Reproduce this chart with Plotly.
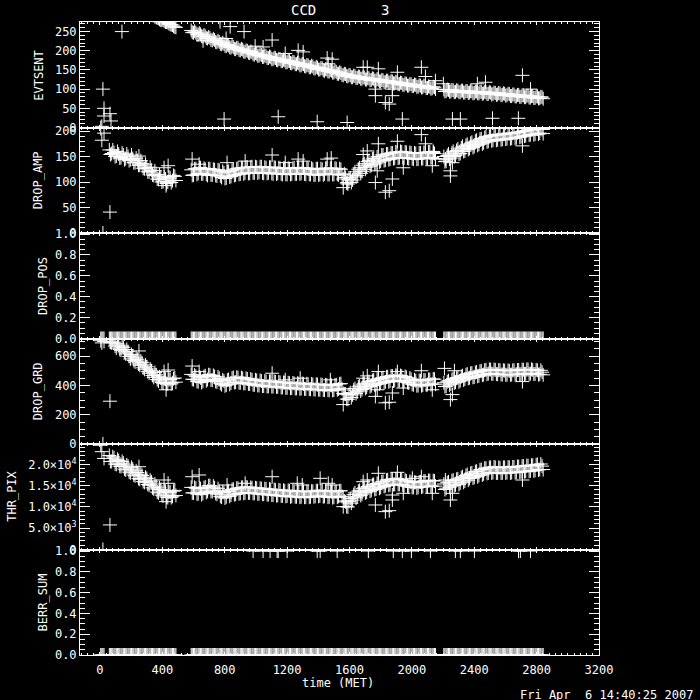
import plotly.graph_objects as go
from plotly.subplots import make_subplots

# ---------------- data ----------------
# first pass of readings
TIME = [
    5, 12, 19, 26,
    60, 75, 90, 105, 120, 135, 150, 165, 180, 195, 210, 225, 240, 255, 270,
    285, 300, 315, 330, 345, 360, 375, 390, 405, 420, 435, 450, 465, 480,
    585, 600, 615, 630, 645, 660, 675, 690, 705, 720,
    735, 750, 765, 780, 795, 810, 825, 840, 855, 870,
    885, 900, 915, 930, 945, 960, 975, 990, 1005, 1020,
    1035, 1050, 1065, 1080, 1095, 1110, 1125, 1140, 1155, 1170,
    1185, 1200, 1215, 1230, 1245, 1260, 1275, 1290, 1305, 1320,
    1335, 1350, 1365, 1380, 1395, 1410, 1425, 1440, 1455, 1470,
    1485, 1500, 1515, 1530, 1545, 1560, 1575, 1590, 1605, 1620,
    1635, 1650, 1665, 1680, 1695, 1710, 1725, 1740, 1755, 1770,
    1785, 1800, 1815, 1830, 1845, 1860, 1875, 1890, 1905, 1920,
    1935, 1950, 1965, 1980, 1995, 2010, 2025, 2040, 2055, 2070,
    2085, 2100, 2115, 2130, 2145,
    2205, 2220, 2235, 2250, 2265, 2280, 2295, 2310, 2325, 2340,
    2355, 2370, 2385, 2400, 2415, 2430, 2445, 2460, 2475, 2490,
    2505, 2520, 2535, 2550, 2565, 2580, 2595, 2610, 2625, 2640,
    2655, 2670, 2685, 2700, 2715, 2730, 2745, 2760, 2775, 2790,
    2805, 2820, 2835,
]

EVTSENT = [
    0, 3, 100, 50,
    362, 357, 354, 350, 347, 341, 339, 335, 330, 328, 322, 321, 315, 314, 308,
    306, 301, 299, 294, 292, 287, 285, 280, 280, 275, 274, 269, 267, 262,
    253, 247, 247, 242, 243, 237, 238, 232, 233, 227,
    228, 222, 223, 217, 218, 212, 214, 208, 210, 204,
    207, 201, 203, 197, 200, 194, 196, 190, 192, 187,
    189, 184, 186, 181, 183, 178, 181, 175, 178, 173,
    175, 170, 173, 167, 170, 165, 167, 162, 165, 159,
    162, 157, 159, 154, 156, 151, 154, 148, 151, 146,
    148, 143, 145, 140, 142, 136, 139, 133, 136, 131,
    134, 129, 132, 127, 130, 125, 128, 124, 127, 122,
    125, 120, 123, 118, 122, 117, 120, 115, 118, 113,
    116, 111, 114, 109, 113, 108, 111, 106, 109, 105,
    108, 103, 106, 102, 105,
    99, 95, 98, 94, 97, 93, 96, 92, 96, 91,
    95, 91, 94, 90, 94, 89, 93, 89, 92, 88,
    91, 87, 90, 86, 89, 85, 88, 84, 87, 82,
    86, 81, 85, 80, 84, 79, 83, 78, 82, 77,
    81, 76, 79,
]

DROP_AMP = [
    205, 182, 0, 196,
    163, 156, 158, 151, 155, 148, 153, 146, 150, 144, 146, 138, 142, 133, 136,
    126, 129, 120, 123, 113, 115, 105, 110, 101, 106, 100, 108, 103, 111,
    124, 114, 126, 117, 128, 116, 125, 113, 126, 114,
    124, 112, 123, 109, 118, 108, 121, 111, 125, 114,
    127, 116, 128, 118, 129, 117, 130, 118, 129, 119,
    130, 117, 128, 118, 129, 116, 128, 117, 127, 115,
    127, 115, 126, 116, 128, 116, 127, 117, 128, 115,
    126, 115, 125, 114, 126, 115, 125, 116, 127, 115,
    127, 115, 126, 114, 125, 106, 109, 96, 108, 104,
    120, 113, 128, 121, 136, 129, 142, 133, 146, 137,
    150, 141, 153, 143, 155, 145, 157, 147, 158, 148,
    159, 147, 158, 146, 157, 145, 156, 145, 157, 146,
    158, 147, 159, 148, 156,
    150, 141, 155, 147, 160, 152, 165, 156, 170, 161,
    174, 166, 178, 170, 182, 174, 185, 177, 189, 180,
    191, 182, 192, 183, 193, 184, 194, 185, 195, 186,
    196, 187, 198, 189, 200, 191, 202, 193, 203, 194,
    204, 196, 203,
]

DROP_POS = [
    0, 0, 0, 0,
    0, 0, 0, 0, 0, 0, 0, 0, 0, 0, 0, 0, 0, 0, 0,
    0, 0, 0, 0, 0, 0, 0, 0, 0, 0, 0, 0, 0, 0,
    0, 0, 0, 0, 0, 0, 0, 0, 0, 0,
    0, 0, 0, 0, 0, 0, 0, 0, 0, 0,
    0, 0, 0, 0, 0, 0, 0, 0, 0, 0,
    0, 0, 0, 0, 0, 0, 0, 0, 0, 0,
    0, 0, 0, 0, 0, 0, 0, 0, 0, 0,
    0, 0, 0, 0, 0, 0, 0, 0, 0, 0,
    0, 0, 0, 0, 0, 0, 0, 0, 0, 0,
    0, 0, 0, 0, 0, 0, 0, 0, 0, 0,
    0, 0, 0, 0, 0, 0, 0, 0, 0, 0,
    0, 0, 0, 0, 0, 0, 0, 0, 0, 0,
    0, 0, 0, 0, 0,
    0, 0, 0, 0, 0, 0, 0, 0, 0, 0,
    0, 0, 0, 0, 0, 0, 0, 0, 0, 0,
    0, 0, 0, 0, 0, 0, 0, 0, 0, 0,
    0, 0, 0, 0, 0, 0, 0, 0, 0, 0,
    0, 0, 0,
]

DROP_GRD = [
    705, 690, 0, 700,
    718, 690, 695, 655, 675, 640, 660, 615, 630, 580, 600, 560, 578, 537, 555,
    510, 527, 483, 500, 455, 472, 430, 452, 415, 442, 410, 440, 418, 450,
    475, 440, 462, 425, 452, 428, 466, 440, 470, 436,
    460, 424, 448, 405, 430, 402, 440, 416, 454, 422,
    452, 418, 448, 414, 444, 410, 438, 404, 434, 400,
    430, 396, 426, 394, 428, 392, 424, 390, 420, 386,
    418, 384, 415, 382, 413, 380, 412, 378, 410, 376,
    408, 374, 406, 372, 405, 370, 404, 368, 402, 366,
    400, 368, 404, 375, 412, 345, 340, 305, 350, 335,
    378, 356, 396, 372, 414, 388, 426, 398, 436, 408,
    444, 416, 452, 424, 459, 430, 464, 434, 466, 433,
    463, 427, 455, 416, 442, 404, 432, 399, 432, 402,
    436, 406, 440, 410, 442,
    418, 394, 432, 410, 447, 422, 454, 432, 466, 444,
    477, 452, 484, 458, 491, 466, 499, 474, 506, 480,
    508, 479, 506, 476, 503, 474, 501, 473, 500, 474,
    503, 476, 505, 478, 507, 480, 508, 480, 506, 478,
    503, 476, 490,
]

THR_PIX = [
    24500, 23000, 0, 21400,
    22100, 20700, 21500, 20000, 20900, 19500, 20300, 18700, 19600, 18000,
    18900, 17300, 18100, 16500, 17400, 15800, 16700, 15100, 15900, 14200,
    14900, 13300, 14100, 12600, 13700, 12200, 13500, 12500, 13900,
    14600, 13300, 14400, 13100, 14300, 13200, 14700, 13700, 15000, 13600,
    14500, 13000, 13800, 12300, 13400, 12400, 13800, 12800, 14200, 13000,
    14400, 13200, 14600, 13300, 14600, 13300, 14500, 13200, 14400, 13100,
    14300, 13000, 14200, 12900, 14100, 12800, 14000, 12700, 13900, 12600,
    13800, 12600, 13800, 12500, 13700, 12400, 13600, 12400, 13600, 12300,
    13600, 12400, 13700, 12500, 13800, 12600, 13800, 12500, 13700, 12400,
    13600, 12300, 13600, 12500, 13800, 12300, 11200, 10000, 12000, 11600,
    13300, 12400, 13900, 13000, 14500, 13500, 14900, 13900, 15300, 14200,
    15600, 14600, 16000, 15000, 16400, 15200, 16500, 15300, 16600, 15300,
    16400, 15000, 16100, 14700, 15800, 14600, 15800, 14600, 15900, 14800,
    16100, 14800, 16200, 14900, 16100,
    15400, 14400, 15900, 14900, 16300, 15200, 16600, 15600, 17100, 16100,
    17600, 16700, 18000, 17000, 18400, 17400, 18800, 17800, 19100, 18000,
    19300, 18100, 19300, 18000, 19200, 18000, 19300, 18100, 19300, 18100,
    19400, 18200, 19500, 18300, 19600, 18400, 19700, 18500, 19800, 18600,
    20000, 18800, 19600,
]

BERR_SUM = [
    0, 0, 0, 0,
    0, 0, 0, 0, 0, 0, 0, 0, 0, 0, 0, 0, 0, 0, 0,
    0, 0, 0, 0, 0, 0, 0, 0, 0, 0, 0, 0, 0, 0,
    0, 0, 0, 0, 0, 0, 0, 0, 0, 0,
    0, 0, 0, 0, 0, 0, 0, 0, 0, 0,
    0, 0, 0, 0, 0, 0, 0, 0, 0, 0,
    0, 0, 0, 0, 0, 0, 0, 0, 0, 0,
    0, 0, 0, 0, 0, 0, 0, 0, 0, 0,
    0, 0, 0, 0, 0, 0, 0, 0, 0, 0,
    0, 0, 0, 0, 0, 0, 0, 0, 0, 0,
    0, 0, 0, 0, 0, 0, 0, 0, 0, 0,
    0, 0, 0, 0, 0, 0, 0, 0, 0, 0,
    0, 0, 0, 0, 0, 0, 0, 0, 0, 0,
    0, 0, 0, 0, 0,
    0, 0, 0, 0, 0, 0, 0, 0, 0, 0,
    0, 0, 0, 0, 0, 0, 0, 0, 0, 0,
    0, 0, 0, 0, 0, 0, 0, 0, 0, 0,
    0, 0, 0, 0, 0, 0, 0, 0, 0, 0,
    0, 0, 0,
]

# second, interleaved pass of readings
TIME2 = [
    67, 82, 97, 112, 127, 142, 157, 172, 187, 202, 217, 232, 247, 262, 277,
    292, 307, 322, 337, 352, 367, 382, 397, 412, 427, 442, 457, 472, 487,
    592, 607, 622, 637, 652, 667, 682, 697, 712, 727,
    742, 757, 772, 787, 802, 817, 832, 847, 862, 877,
    892, 907, 922, 937, 952, 967, 982, 997, 1012, 1027,
    1042, 1057, 1072, 1087, 1102, 1117, 1132, 1147, 1162, 1177,
    1192, 1207, 1222, 1237, 1252, 1267, 1282, 1297, 1312, 1327,
    1342, 1357, 1372, 1387, 1402, 1417, 1432, 1447, 1462, 1477,
    1492, 1507, 1522, 1537, 1552, 1567, 1582, 1597, 1612, 1627,
    1642, 1657, 1672, 1687, 1702, 1717, 1732, 1747, 1762, 1777,
    1792, 1807, 1822, 1837, 1852, 1867, 1882, 1897, 1912, 1927,
    1942, 1957, 1972, 1987, 2002, 2017, 2032, 2047, 2062, 2077,
    2092, 2107, 2122, 2137, 2152,
    2212, 2227, 2242, 2257, 2272, 2287, 2302, 2317, 2332, 2347,
    2362, 2377, 2392, 2407, 2422, 2437, 2452, 2467, 2482, 2497,
    2512, 2527, 2542, 2557, 2572, 2587, 2602, 2617, 2632, 2647,
    2662, 2677, 2692, 2707, 2722, 2737, 2752, 2767, 2782, 2797,
    2812, 2827, 2842,
]

EVTSENT2 = [
    359, 356, 351, 349, 343, 340, 336, 333, 329, 324, 322, 317, 315, 310, 307,
    303, 300, 296, 293, 289, 286, 282, 280, 277, 275, 271, 268, 264, 261,
    248, 251, 243, 246, 238, 241, 233, 236, 228, 231,
    223, 226, 218, 221, 213, 216, 209, 212, 205, 208,
    202, 205, 198, 201, 195, 198, 191, 194, 187, 191,
    184, 188, 181, 185, 178, 182, 176, 179, 173, 177,
    170, 174, 168, 171, 165, 169, 162, 166, 160, 163,
    157, 161, 154, 158, 151, 155, 149, 152, 146, 150,
    143, 147, 140, 144, 137, 140, 134, 137, 131, 135,
    129, 133, 127, 131, 125, 129, 123, 128, 122, 126,
    120, 124, 118, 122, 117, 121, 115, 119, 113, 117,
    111, 115, 109, 113, 108, 112, 106, 110, 104, 109,
    103, 107, 101, 106, 100,
    94, 99, 93, 98, 92, 97, 92, 96, 91, 95,
    90, 95, 89, 94, 89, 93, 88, 93, 87, 92,
    86, 91, 85, 90, 84, 89, 83, 88, 82, 86,
    81, 85, 80, 84, 79, 83, 78, 82, 77, 81,
    76, 80, 75,
]

DROP_AMP2 = [
    154, 163, 150, 160, 147, 157, 144, 155, 142, 153, 138, 147, 133, 142, 127,
    135, 120, 129, 114, 122, 106, 114, 100, 110, 97, 110, 99, 113, 103,
    113, 126, 115, 128, 116, 127, 115, 126, 114, 125,
    113, 124, 112, 121, 107, 120, 110, 123, 113, 126,
    115, 128, 116, 129, 117, 129, 118, 130, 118, 130,
    118, 129, 117, 129, 117, 129, 116, 128, 116, 127,
    115, 127, 115, 127, 116, 128, 116, 128, 116, 127,
    115, 127, 114, 126, 114, 126, 114, 127, 115, 127,
    115, 127, 115, 126, 114, 116, 98, 105, 99, 114,
    110, 125, 117, 133, 125, 140, 131, 145, 135, 149,
    139, 153, 142, 155, 144, 157, 146, 159, 147, 160,
    148, 159, 147, 158, 146, 157, 145, 157, 146, 158,
    147, 159, 148, 160, 146,
    140, 152, 145, 157, 150, 162, 155, 167, 160, 172,
    164, 176, 168, 180, 172, 184, 175, 187, 179, 190,
    181, 192, 182, 193, 183, 194, 184, 195, 185, 196,
    186, 197, 188, 199, 190, 201, 192, 203, 193, 204,
    194, 205, 195,
]

DROP_POS2 = [
    0, 0, 0, 0, 0, 0, 0, 0, 0, 0, 0, 0, 0, 0, 0,
    0, 0, 0, 0, 0, 0, 0, 0, 0, 0, 0, 0, 0, 0,
    0, 0, 0, 0, 0, 0, 0, 0, 0, 0,
    0, 0, 0, 0, 0, 0, 0, 0, 0, 0,
    0, 0, 0, 0, 0, 0, 0, 0, 0, 0,
    0, 0, 0, 0, 0, 0, 0, 0, 0, 0,
    0, 0, 0, 0, 0, 0, 0, 0, 0, 0,
    0, 0, 0, 0, 0, 0, 0, 0, 0, 0,
    0, 0, 0, 0, 0, 0, 0, 0, 0, 0,
    0, 0, 0, 0, 0, 0, 0, 0, 0, 0,
    0, 0, 0, 0, 0, 0, 0, 0, 0, 0,
    0, 0, 0, 0, 0, 0, 0, 0, 0, 0,
    0, 0, 0, 0, 0,
    0, 0, 0, 0, 0, 0, 0, 0, 0, 0,
    0, 0, 0, 0, 0, 0, 0, 0, 0, 0,
    0, 0, 0, 0, 0, 0, 0, 0, 0, 0,
    0, 0, 0, 0, 0, 0, 0, 0, 0, 0,
    0, 0, 0,
]

DROP_GRD2 = [
    695, 712, 668, 684, 645, 668, 628, 645, 598, 610, 570, 588, 546, 566, 520,
    540, 494, 512, 468, 488, 440, 458, 420, 444, 410, 440, 410, 446, 422,
    442, 470, 428, 458, 420, 461, 432, 473, 437, 468,
    427, 458, 414, 438, 397, 436, 407, 450, 420, 456,
    418, 453, 414, 448, 410, 443, 404, 438, 400, 434,
    396, 430, 392, 428, 392, 427, 390, 424, 386, 420,
    383, 418, 381, 416, 379, 414, 377, 413, 376, 411,
    374, 409, 372, 408, 371, 406, 369, 404, 367, 402,
    366, 403, 370, 410, 377, 342, 307, 338, 317, 368,
    344, 390, 362, 408, 380, 423, 392, 433, 402, 442,
    410, 450, 418, 458, 425, 464, 430, 468, 432, 467,
    429, 461, 420, 450, 408, 438, 398, 433, 398, 436,
    402, 440, 406, 444, 408,
    392, 425, 403, 440, 417, 451, 425, 461, 437, 473,
    448, 482, 455, 488, 462, 496, 470, 504, 477, 509,
    479, 508, 477, 505, 474, 503, 472, 502, 472, 503,
    474, 505, 476, 507, 478, 509, 479, 509, 478, 506,
    474, 503, 472,
]

THR_PIX2 = [
    20700, 21800, 20100, 21200, 19600, 20700, 18900, 19900, 18200, 19300,
    17500, 18500, 16700, 17700, 16000, 17000, 15300, 16300, 14500, 15400,
    13500, 14500, 12800, 13800, 12300, 13500, 12200, 13700, 12700,
    13300, 14600, 13100, 14400, 12900, 14500, 13400, 15000, 13700, 14900,
    13200, 14300, 12500, 13600, 12100, 13600, 12500, 14100, 12900, 14400,
    13100, 14600, 13200, 14700, 13300, 14600, 13200, 14500, 13100, 14400,
    13000, 14300, 12900, 14200, 12800, 14100, 12700, 14000, 12600, 13900,
    12500, 13900, 12400, 13800, 12400, 13700, 12300, 13700, 12300, 13600,
    12300, 13700, 12400, 13800, 12500, 13900, 12400, 13800, 12300, 13700,
    12200, 13600, 12300, 13800, 12500, 11400, 10100, 11300, 10900, 12900,
    12100, 13700, 12700, 14300, 13300, 14800, 13700, 15200, 14100, 15500,
    14400, 15900, 14800, 16300, 15100, 16500, 15300, 16600, 15300, 16500,
    15200, 16300, 14900, 16000, 14600, 15800, 14500, 15900, 14700, 16100,
    14800, 16200, 14900, 16200, 14900,
    14100, 15700, 14600, 16200, 15000, 16500, 15300, 16900, 15800, 17400,
    16300, 17900, 16800, 18300, 17100, 18700, 17500, 19100, 17900, 19300,
    18000, 19400, 18000, 19300, 18000, 19300, 18000, 19400, 18000, 19400,
    18100, 19500, 18200, 19600, 18300, 19700, 18400, 19800, 18500, 19900,
    18700, 20100, 18800,
]

BERR_SUM2 = DROP_POS2[:]  # second-pass BERR_SUM readings are all zero as well

# isolated readings away from the main band
EVT_OUT_T = [26, 64, 71, 141, 796, 1143, 1393, 770, 835, 924, 1104, 995, 1046, 661, 809,
             1188, 1271, 1303, 1457, 1489, 1464, 1585, 1688, 1714, 1785, 1907, 2061, 2087,
             2709, 1766, 1766, 1830, 1855, 1875, 1875, 2151, 2202, 2420, 2472, 2761, 1939,
             2260, 2311, 2517, 2683]
EVT_OUT_V = [30, 36, 17, 250, 22, 28, 15, 276, 263, 250, 228, 212, 210, 226, 232,
             193, 201, 197, 181, 178, 166, 13, 157, 157, 153, 144, 157, 133,
             136, 100, 83, 65, 61, 83, 100, 122, 114, 114, 118, 100, 22,
             22, 22, 24, 24]

AMP_OUT_T = [64, 250, 411, 437, 424, 591, 636, 815, 931, 1104, 1188, 1271, 1303, 1457, 1483,
             1560, 1586, 1688, 1714, 1785, 1907, 2061, 2087, 2709, 1778, 1766, 1830, 1855,
             1875, 1945, 2131, 2247, 2247, 2260, 2215, 2138, 2151]
AMP_OUT_V = [41, 151, 128, 132, 93, 145, 135, 138, 141, 153, 138, 145, 141, 145, 147,
             89, 99, 154, 161, 175, 180, 193, 175, 171, 122, 99, 80, 83,
             106, 128, 132, 112, 122, 138, 145, 158, 145]

GRD_OUT_T = [64, 250, 411, 437, 424, 591, 636, 1104, 1188, 1284, 1477, 1560, 1688, 1714,
             1785, 1907, 2061, 2209, 2273, 1766, 1830, 1855, 1875, 1945, 2131, 2247, 2260,
             2709, 1778]
GRD_OUT_V = [292, 635, 494, 505, 370, 532, 494, 483, 438, 449, 438, 269, 449, 465,
             494, 494, 500, 516, 500, 325, 281, 285, 348, 382, 370, 303, 337,
             426, 370]

THR_OUT_T = [64, 250, 411, 437, 424, 591, 636, 815, 931, 1104, 1265, 1297, 1412, 1464,
             1489, 1560, 1688, 1714, 1785, 1907, 2061, 2003, 1766, 1830, 1855, 1875, 1875,
             1945, 2131, 2247, 2260, 2215, 2709]
THR_OUT_V = [5770, 19460, 16340, 15560, 11240, 17110, 17510, 15160, 15560, 17110, 15560,
             15160, 16730, 15560, 15160, 10070, 15940, 16340, 17910, 18140, 17110, 16730,
             10470, 8900, 9130, 11640, 12810, 13210, 13210, 11640, 13210, 16340, 16340]

POS_OUT_T = []
POS_OUT_V = []

BERR_OUT_T = [982, 1046, 1091, 1136, 1143, 1200, 1393, 1412, 1521, 1721, 1881, 1939, 1997,
              2119, 2279, 2311, 2401, 2684, 2696, 2761]
BERR_OUT_V = [1, 1, 1, 1, 1, 1, 1, 1, 1, 1, 1, 1, 1, 1, 1, 1, 1, 1, 1, 1]

X_TICKS = [0, 400, 800, 1200, 1600, 2000, 2400, 2800, 3200]
EVT_TICKS = [0, 50, 100, 150, 200, 250]
AMP_TICKS = [0, 50, 100, 150, 200]
FRAC_TICKS = [0.0, 0.2, 0.4, 0.6, 0.8, 1.0]
FRAC_LABELS = ["0.0", "0.2", "0.4", "0.6", "0.8", "1.0"]
GRD_TICKS = [0, 200, 400, 600]
THR_TICKS = [0, 5000, 10000, 15000, 20000]
THR_LABELS = ["0", "5.0×10<sup>3</sup>", "1.0×10<sup>4</sup>", "1.5×10<sup>4</sup>",
              "2.0×10<sup>4</sup>"]

for arr in (EVTSENT, DROP_AMP, DROP_POS, DROP_GRD, THR_PIX, BERR_SUM):
    assert len(arr) == len(TIME), len(arr)
for arr in (EVTSENT2, DROP_AMP2, DROP_POS2, DROP_GRD2, THR_PIX2, BERR_SUM2):
    assert len(arr) == len(TIME2), len(arr)

# ---------------- figure ----------------
FONT = "DejaVu Sans Mono"
panels = [
    ("EVTSENT", EVTSENT, EVTSENT2, EVT_OUT_T, EVT_OUT_V, [0, 275], EVT_TICKS, None, 10, -0.079),
    ("DROP_AMP", DROP_AMP, DROP_AMP2, AMP_OUT_T, AMP_OUT_V, [0, 207], AMP_TICKS, None, 10, -0.081),
    ("DROP_POS", DROP_POS, DROP_POS2, POS_OUT_T, POS_OUT_V, [0, 1.01], FRAC_TICKS, FRAC_LABELS, 0.05, -0.071),
    ("DROP_GRD", DROP_GRD, DROP_GRD2, GRD_OUT_T, GRD_OUT_V, [0, 720], GRD_TICKS, None, 50, -0.081),
    ("THR_PIX", THR_PIX, THR_PIX2, THR_OUT_T, THR_OUT_V, [0, 24800], THR_TICKS, THR_LABELS, 1000, -0.131),
    ("BERR_SUM", BERR_SUM, BERR_SUM2, BERR_OUT_T, BERR_OUT_V, [0, 1.015], FRAC_TICKS, FRAC_LABELS, 0.05, -0.071),
]

fig = make_subplots(rows=6, cols=1, shared_xaxes=True, vertical_spacing=0)

annotations = []
for i, (name, vals, vals2, ot, ov, yr, ytv, ytt, ymin, tx) in enumerate(panels, start=1):
    fig.add_trace(go.Scatter(
        x=TIME + TIME2 + ot, y=vals + vals2 + ov, mode="markers",
        marker=dict(symbol="cross-thin", size=10, color="white",
                    line=dict(color="white", width=1)),
        showlegend=False, hoverinfo="skip"), row=i, col=1)
    yax = dict(range=yr, tickmode="array", tickvals=ytv, showline=True, linecolor="white",
               linewidth=1, mirror="ticks", ticks="inside", ticklen=10, tickcolor="white",
               showgrid=False, zeroline=False,
               tickfont=dict(family=FONT, size=12, color="white"),
               minor=dict(tickmode="linear", tick0=0, dtick=ymin, ticks="inside",
                          ticklen=5, tickcolor="white", showgrid=False))
    if ytt is not None:
        yax["ticktext"] = ytt
    fig.update_yaxes(**yax, row=i, col=1)
    fig.update_xaxes(range=[-128, 3200], tickmode="array", tickvals=X_TICKS, showline=True,
                     linecolor="white", linewidth=1, mirror="ticks", ticks="inside",
                     ticklen=3, tickcolor="white", showgrid=False, zeroline=False,
                     tickfont=dict(family=FONT, size=12, color="white"),
                     ticklabelstandoff=4,
                     minor=dict(tickmode="linear", tick0=0, dtick=40, ticks="inside",
                                ticklen=2, tickcolor="white", showgrid=False),
                     row=i, col=1)
    dom = fig.layout["yaxis" + ("" if i == 1 else str(i))].domain
    annotations.append(dict(text=name, xref="paper", yref="paper", x=tx,
                            y=(dom[0] + dom[1]) / 2, textangle=-90, showarrow=False,
                            xanchor="center", yanchor="middle",
                            font=dict(family=FONT, size=12, color="white")))

annotations += [
    dict(text="CCD", xref="paper", yref="paper", x=0.431, y=1.019, showarrow=False,
         xanchor="center", yanchor="middle", font=dict(family=FONT, size=14, color="white")),
    dict(text="3", xref="paper", yref="paper", x=0.587, y=1.019, showarrow=False,
         xanchor="center", yanchor="middle", font=dict(family=FONT, size=14, color="white")),
    dict(text="time (MET)", xref="paper", yref="paper", x=0.497, y=-0.044, showarrow=False,
         xanchor="center", yanchor="middle", font=dict(family=FONT, size=12, color="white")),
    dict(text="Fri Apr  6 14:40:25 2007", xref="paper", yref="paper", x=1.185, y=-0.063,
         showarrow=False, xanchor="right", yanchor="middle",
         font=dict(family=FONT, size=12, color="white")),
]

fig.update_layout(
    width=700, height=700,
    margin=dict(l=80, r=101, t=22, b=45, pad=0),
    paper_bgcolor="black", plot_bgcolor="black",
    font=dict(family=FONT, size=12, color="white"),
    annotations=annotations,
    showlegend=False,
)

fig.write_html(
    "out.html",
    config={"displayModeBar": False},
    post_script="document.body.style.margin='0';document.body.style.background='black';",
)
